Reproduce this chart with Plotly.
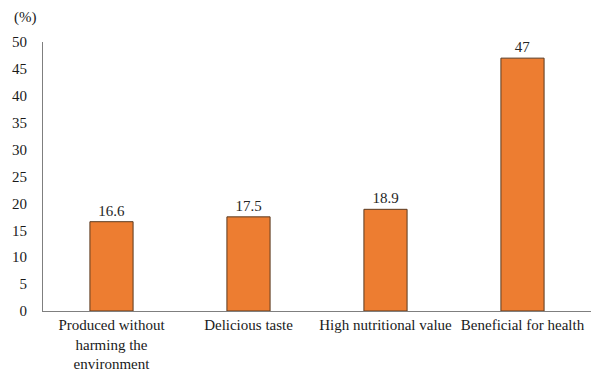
import plotly.graph_objects as go

categories = ["Produced without<br>harming the<br>environment", "Delicious taste",
              "High nutritional value", "Beneficial for health"]
values = [16.6, 17.5, 18.9, 47]
value_labels = ["16.6", "17.5", "18.9", "47"]
y_ticks = [0, 5, 10, 15, 20, 25, 30, 35, 40, 45, 50]

font = "Liberation Serif"
fs = 15

fig = go.Figure(go.Bar(
    x=categories, y=values, text=value_labels, textposition="outside",
    textfont=dict(family=font, size=fs, color="#262626"),
    marker=dict(color="#ED7D31", line=dict(color="#5a3a20", width=1)),
    width=0.315, cliponaxis=False,
))

fig.update_layout(
    width=591, height=373,
    margin=dict(l=43, r=0, t=42, b=62),
    paper_bgcolor="white", plot_bgcolor="white",
    font=dict(family=font, size=fs, color="#1a1a1a"),
    showlegend=False,
    xaxis=dict(showline=True, linecolor="#7f7f7f", linewidth=1, ticks="",
               tickfont=dict(family=font, size=fs, color="#1a1a1a")),
    yaxis=dict(range=[0, 50], tickvals=y_ticks, showline=True, linecolor="#7f7f7f",
               linewidth=1, showgrid=False, zeroline=False, ticks="",
               ticklabelstandoff=12,
               tickfont=dict(family=font, size=fs, color="#1a1a1a")),
    annotations=[dict(text="(%)", x=0, y=1, xref="paper", yref="paper",
                      xanchor="center", yanchor="bottom", yshift=14, xshift=-18,
                      showarrow=False, font=dict(family=font, size=fs, color="#1a1a1a"))],
)

fig.write_html("out.html")
